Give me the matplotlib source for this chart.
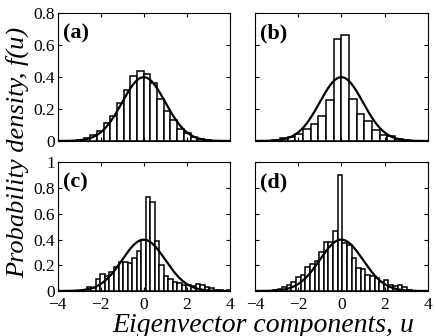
import matplotlib
matplotlib.use("Agg")
import matplotlib.pyplot as plt
import numpy as np

# histogram data: bin width, left edge of first bin, bar heights (left -> right)
a_width, a_start = 0.31, -3.1
a_heights = [0.006, 0.018, 0.038, 0.064, 0.11, 0.154, 0.236, 0.32, 0.405, 0.437,
             0.42, 0.36, 0.265, 0.19, 0.133, 0.073, 0.048, 0.025, 0.012, 0.005]

b_width, b_start = 0.355, -3.55
b_heights = [0.003, 0.005, 0.017, 0.027, 0.042, 0.073, 0.106, 0.156, 0.256, 0.64,
             0.665, 0.262, 0.167, 0.127, 0.069, 0.038, 0.031, 0.01, 0.004]

c_width, c_start = 0.21, -2.64
c_heights = [0.033, 0.026, 0.09, 0.13, 0.115, 0.145, 0.19, 0.223, 0.223, 0.215,
             0.254, 0.31, 0.40, 0.733, 0.694, 0.39, 0.20, 0.12, 0.093, 0.072,
             0.06, 0.05, 0.044, 0.036, 0.055, 0.044, 0.03, 0.02, 0.01, 0.005,
             0.003, 0.005]

d_width, d_start = 0.214, -3.38
d_heights = [0.003, 0.008, 0.015, 0.03, 0.045, 0.072, 0.11, 0.124, 0.19, 0.21,
             0.23, 0.305, 0.38, 0.383, 0.466, 0.90, 0.37, 0.36, 0.26, 0.176,
             0.17, 0.124, 0.118, 0.098, 0.067, 0.085, 0.05, 0.04, 0.05, 0.03,
             0.01]

panels = ["(a)", "(b)", "(c)", "(d)"]
ylims = [0.8, 0.8, 1.0, 1.0]
xticks = [-4, -2, 0, 2, 4]
# reference Gaussian: mean, std
mu, sigma = 0.0, 1.0

plt.rcParams["font.family"] = ["Liberation Serif", "DejaVu Serif"]

fig = plt.figure(figsize=(4.36, 3.36), dpi=100)
W, H = 436, 336
boxes = [(57.5, 13, 230, 141), (255, 13, 427.7, 141),
         (57.5, 162.3, 230, 291), (255, 162.3, 427.7, 291)]

data = [(a_width, a_start, a_heights), (b_width, b_start, b_heights),
        (c_width, c_start, c_heights), (d_width, d_start, d_heights)]

u = np.linspace(-4, 4, 400)
pdf = np.exp(-0.5 * ((u - mu) / sigma) ** 2) / (sigma * np.sqrt(2 * np.pi))

for i, ((x0, y0, x1, y1), (w, start, hts)) in enumerate(zip(boxes, data)):
    ax = fig.add_axes([x0 / W, 1 - y1 / H, (x1 - x0) / W, (y1 - y0) / H])
    lefts = start + w * np.arange(len(hts))
    ax.bar(lefts, hts, width=w, align="edge", facecolor="white",
           edgecolor="black", linewidth=1.1)
    ax.plot(u, pdf, color="black", lw=1.6)
    ax.set_xlim(-4, 4)
    ax.set_ylim(0, ylims[i])
    ax.set_xticks(xticks)
    yt = np.arange(0, ylims[i] + 0.01, 0.2)
    ax.set_yticks(yt)
    ax.tick_params(direction="in", top=True, right=True, length=3, width=0.8,
                   labelsize=12.5)
    ax.tick_params(axis="y", pad=2)
    ax.tick_params(axis="x", pad=4.5)
    if i in (0, 2):
        ax.set_yticklabels(["0" if v == 0 else ("1" if abs(v - 1) < 1e-9 else f"{v:.1f}") for v in yt],
                           va="center_baseline")
    else:
        ax.set_yticklabels([])
    if i in (2, 3):
        ax.set_xticklabels([f"{v}".replace("-", "\u2212") for v in xticks])
    else:
        ax.set_xticklabels([])
    for s in ax.spines.values():
        s.set_linewidth(0.8)
    ax.text(0.03, 0.84, panels[i], transform=ax.transAxes, fontsize=16,
            fontweight="bold", va="center", ha="left")

fig.text(17 / W, 1 - 152 / H, "Probability density, f(u)", rotation=90,
         fontsize=19, style="italic", ha="center", va="center")
fig.text(263.5 / W, 1 - 331.5 / H, "Eigenvector components, u", fontsize=20,
         style="italic", ha="center", va="baseline")

fig.savefig("out.png", dpi=100)
